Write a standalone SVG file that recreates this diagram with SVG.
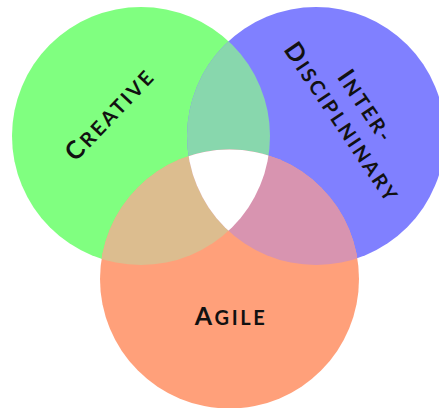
<svg xmlns="http://www.w3.org/2000/svg" width="439" height="408" viewBox="0 0 439 408">
  <style>
    .lbl { font-family: Lato, "Open Sans", "DejaVu Sans", sans-serif; fill: #111; font-weight: 700; letter-spacing: 2.6px; }
    .big { font-size: 25px; }
    .sm { font-size: 20px; }
  </style>
  <defs>
    <clipPath id="cG"><circle cx="141" cy="136" r="129"/></clipPath>
    <clipPath id="cB"><circle cx="316" cy="136" r="129"/></clipPath>
    <clipPath id="cO"><circle cx="229.5" cy="279" r="129.5"/></clipPath>
  </defs>
  <rect width="439" height="408" fill="#fff"/>
  <g id="creative">
    <circle cx="141" cy="136" r="129" fill="#80ff80"/>
  </g>
  <g id="interdisciplinary">
    <circle cx="316" cy="136" r="129" fill="#8080ff"/>
  </g>
  <g id="agile">
    <circle cx="229.5" cy="279" r="129.5" fill="#ffa07a"/>
  </g>
  <g id="overlaps">
    <g clip-path="url(#cG)"><circle cx="316" cy="136" r="129" fill="#88d7ad"/></g>
    <g clip-path="url(#cG)"><circle cx="229.5" cy="279" r="129.5" fill="#dcbd8f"/></g>
    <g clip-path="url(#cB)"><circle cx="229.5" cy="279" r="129.5" fill="#d894b0"/></g>
    <g clip-path="url(#cG)"><g clip-path="url(#cB)"><circle cx="229.5" cy="279" r="129.5" fill="#ffffff"/></g></g>
  </g>
  <g id="labels">
    <text class="lbl" text-anchor="middle" transform="translate(116,120) rotate(-46.5)"><tspan class="big">C</tspan><tspan class="sm">REATIVE</tspan></text>
    <g transform="translate(359.4,111) rotate(56)">
      <text class="lbl" text-anchor="middle" x="0" y="0"><tspan class="big">I</tspan><tspan class="sm">NTER-</tspan></text>
      <text class="lbl" text-anchor="middle" x="0" y="29"><tspan class="big">D</tspan><tspan class="sm">ISCIPLNINARY</tspan></text>
    </g>
    <text class="lbl" text-anchor="middle" x="231" y="325"><tspan class="big">A</tspan><tspan class="sm">GILE</tspan></text>
  </g>
</svg>
